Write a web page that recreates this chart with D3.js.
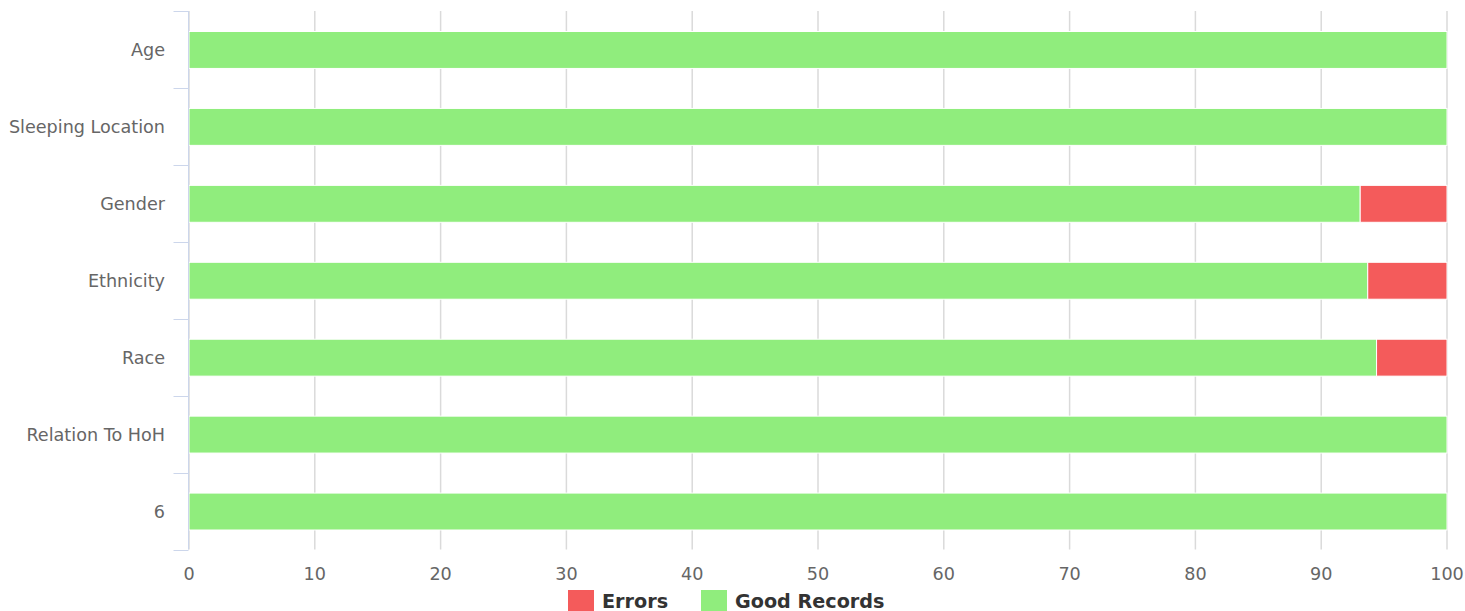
<!DOCTYPE html>
<html>
<head>
<meta charset="utf-8">
<script src="https://cdn.jsdelivr.net/npm/d3@7"></script>
<style>
  body { margin: 0; background: #fff; }
  svg { display: block; font-family: "DejaVu Sans", sans-serif; }
</style>
</head>
<body>
<div id="chart"></div>
<script>
// Categories and series (percent of records)
var categories = ["Age", "Sleeping Location", "Gender", "Ethnicity", "Race", "Relation To HoH", "6"];
var goodRecords = [100, 100, 93.1, 93.7, 94.4, 100, 100];
var errors = [0, 0, 6.9, 6.3, 5.6, 0, 0];
var xTicks = [0, 10, 20, 30, 40, 50, 60, 70, 80, 90, 100];

var width = 1465, height = 611;
var margin = { top: 11, right: 18, bottom: 61.5, left: 188.5 };

var svg = d3.select("#chart").append("svg")
  .attr("width", width)
  .attr("height", height);

var x = d3.scaleLinear()
  .domain([0, 100])
  .range([margin.left + 0.5, width - margin.right]);

var y = d3.scaleBand()
  .domain(categories)
  .range([margin.top, height - margin.bottom]);

// bar thickness like highcharts: groupPadding 0.2, pointPadding 0.1
var barH = y.bandwidth() * 0.6 * 0.8;

// gridlines
svg.append("g")
  .selectAll("line")
  .data(xTicks)
  .join("line")
  .attr("x1", d => x(d))
  .attr("x2", d => x(d))
  .attr("y1", margin.top)
  .attr("y2", height - margin.bottom)
  .attr("stroke", "#dadada")
  .attr("stroke-width", 1.5);

// stacked data: good records on the left, errors after
var rows = categories.map((c, i) => ({ cat: c, good: goodRecords[i], err: errors[i] }));

var bars = svg.append("g");
bars.selectAll("rect.good")
  .data(rows)
  .join("rect")
  .attr("class", "good")
  .attr("x", d => x(0))
  .attr("y", d => y(d.cat) + (y.bandwidth() - barH) / 2 + 0.5)
  .attr("width", d => x(d.good) - x(0))
  .attr("height", barH)
  .attr("fill", "#90ed7d")
  .attr("stroke", "#ffffff")
  .attr("stroke-width", 1);

bars.selectAll("rect.err")
  .data(rows.filter(d => d.err > 0))
  .join("rect")
  .attr("class", "err")
  .attr("x", d => x(d.good))
  .attr("y", d => y(d.cat) + (y.bandwidth() - barH) / 2 + 0.5)
  .attr("width", d => x(d.good + d.err) - x(d.good))
  .attr("height", barH)
  .attr("fill", "#f45b5b")
  .attr("stroke", "#ffffff")
  .attr("stroke-width", 1);

// y axis (categories)
var yAxis = svg.append("g")
  .attr("transform", "translate(" + margin.left + ",0)");

yAxis.append("line")
  .attr("x1", 0).attr("x2", 0)
  .attr("y1", margin.top).attr("y2", height - margin.bottom)
  .attr("stroke", "#ccd6eb");

var tickYs = categories.map(c => y(c)).concat([height - margin.bottom]);
yAxis.selectAll("line.tick")
  .data(tickYs)
  .join("line")
  .attr("class", "tick")
  .attr("x1", -15).attr("x2", 0)
  .attr("y1", d => Math.round(d) + 0.5)
  .attr("y2", d => Math.round(d) + 0.5)
  .attr("stroke", "#ccd6eb");

yAxis.selectAll("text")
  .data(categories)
  .join("text")
  .attr("x", -23.5)
  .attr("y", d => y(d) + y.bandwidth() / 2 + 7)
  .attr("text-anchor", "end")
  .attr("font-size", 17.6)
  .attr("fill", "#666666")
  .text(d => d);

// x axis labels
svg.append("g")
  .selectAll("text")
  .data(xTicks)
  .join("text")
  .attr("x", d => x(d))
  .attr("y", 579.5)
  .attr("text-anchor", "middle")
  .attr("font-size", 17.6)
  .attr("fill", "#666666")
  .text(d => d);

// legend
var legendItems = [
  { name: "Errors", color: "#f45b5b", x: 568 },
  { name: "Good Records", color: "#90ed7d", x: 701 }
];
var legend = svg.append("g");
legend.selectAll("rect")
  .data(legendItems)
  .join("rect")
  .attr("x", d => d.x)
  .attr("y", 590)
  .attr("width", 26)
  .attr("height", 24)
  .attr("fill", d => d.color);
legend.selectAll("text")
  .data(legendItems)
  .join("text")
  .attr("x", d => d.x + 34)
  .attr("y", 607.5)
  .attr("font-size", 19.2)
  .attr("font-weight", "bold")
  .attr("fill", "#333333")
  .text(d => d.name);
</script>
</body>
</html>
